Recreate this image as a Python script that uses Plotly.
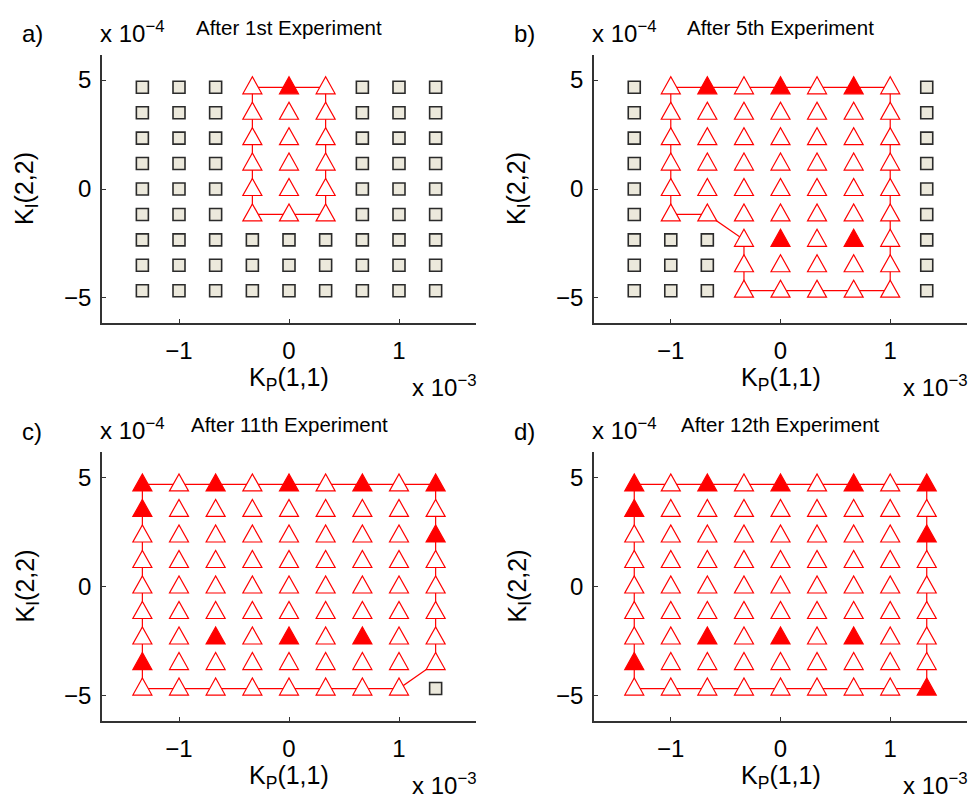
import plotly.graph_objects as go

# Grid of candidate gains (K_P in units of 1e-3, K_I in units of 1e-4)
KP = [-1.333, -1.0, -0.667, -0.333, 0.0, 0.333, 0.667, 1.0, 1.333]
KI = [-4.667, -3.5, -2.333, -1.167, 0.0, 1.167, 2.333, 3.5, 4.667]

PANEL_LABELS = ["a)", "b)", "c)", "d)"]
TITLES = ["After 1st Experiment", "After 5th Experiment",
          "After 11th Experiment", "After 12th Experiment"]

# State of each grid point. Rows run from KI = 4.667 (top) down to KI = -4.667,
# columns follow KP.  s = outside region, o = inside region, f = inside & tested
STATES_A = ["sssofosss",
            "sssooosss",
            "sssooosss",
            "sssooosss",
            "sssooosss",
            "sssooosss",
            "sssssssss",
            "sssssssss",
            "sssssssss"]
STATES_B = ["sofofofos",
            "sooooooos",
            "sooooooos",
            "sooooooos",
            "sooooooos",
            "sooooooos",
            "sssofofos",
            "sssooooos",
            "sssooooos"]
STATES_C = ["fofofofof",
            "foooooooo",
            "oooooooof",
            "ooooooooo",
            "ooooooooo",
            "ooooooooo",
            "oofofofoo",
            "foooooooo",
            "oooooooos"]
STATES_D = ["fofofofof",
            "foooooooo",
            "oooooooof",
            "ooooooooo",
            "ooooooooo",
            "ooooooooo",
            "oofofofoo",
            "foooooooo",
            "oooooooof"]

# Region boundary vertices as (KP index, KI index), KI index 0 = bottom row
BOUND_A_COL = [3, 5, 5, 3, 3]
BOUND_A_ROW = [8, 8, 3, 3, 8]
BOUND_B_COL = [1, 7, 7, 3, 3, 2, 1, 1]
BOUND_B_ROW = [8, 8, 0, 0, 2, 3, 3, 8]
BOUND_C_COL = [0, 8, 8, 7, 0, 0]
BOUND_C_ROW = [8, 8, 1, 0, 0, 8]
BOUND_D_COL = [0, 8, 8, 0, 0]
BOUND_D_ROW = [8, 8, 0, 0, 8]

PANELS = [
    (STATES_A, BOUND_A_COL, BOUND_A_ROW),
    (STATES_B, BOUND_B_COL, BOUND_B_ROW),
    (STATES_C, BOUND_C_COL, BOUND_C_ROW),
    (STATES_D, BOUND_D_COL, BOUND_D_ROW),
]

W, H = 974, 801
RED = "#ff0000"
AXC = "#333333"
FONT = "Liberation Sans, Arial, Helvetica, sans-serif"
SQUARE_FILL = "#ece9dc"
TRI_PATH = "M-9.5,-6.5 L9.5,-6.5 L0,10.5 Z"

# Axes boxes in pixels: (left, right, top, bottom)
BOXES = [(102, 476, 55, 323), (594, 967, 55, 323),
         (102, 476, 452, 721), (594, 967, 452, 721)]


def px(x):
    return x / W


def py(y):
    return 1 - y / H


fig = go.Figure()
shapes = []
annotations = []
layout_axes = {}

for i, ((states, bcol, brow), (L, R, T, B)) in enumerate(zip(PANELS, BOXES)):
    n = "" if i == 0 else str(i + 1)
    xa, ya = "x" + n, "y" + n

    # boundary of the current region
    fig.add_trace(go.Scatter(
        x=[KP[c] for c in bcol], y=[KI[r] for r in brow],
        mode="lines", line=dict(color=RED, width=1.2),
        xaxis=xa, yaxis=ya, showlegend=False, hoverinfo="skip"))

    sq_x, sq_y = [], []
    nrows = len(KI)
    for ri, row in enumerate(states):
        yv = KI[nrows - 1 - ri]
        for ci, ch in enumerate(row):
            xv = KP[ci]
            if ch == "s":
                sq_x.append(xv)
                sq_y.append(yv)
            else:
                filled = ch == "f"
                shapes.append(dict(
                    type="path", xref=xa, yref=ya,
                    xsizemode="pixel", ysizemode="pixel",
                    xanchor=xv, yanchor=yv, path=TRI_PATH,
                    fillcolor=RED if filled else "white",
                    line=dict(color=RED, width=1.2), layer="above"))

    fig.add_trace(go.Scatter(
        x=sq_x, y=sq_y, mode="markers",
        marker=dict(symbol="square", size=12, color=SQUARE_FILL,
                    line=dict(color="#2b2b2b", width=1.6)),
        xaxis=xa, yaxis=ya, showlegend=False, hoverinfo="skip"))

    axis_common = dict(
        showline=True, linecolor=AXC, linewidth=1.5,
        ticks="inside", ticklen=4, tickwidth=1, tickcolor=AXC,
        showgrid=False, zeroline=False, mirror=False,
        tickfont=dict(family=FONT, size=24, color="black"),
    )
    layout_axes["xaxis" + n] = dict(
        axis_common, domain=[px(L), px(R)], anchor=ya,
        range=[-1.7, 1.7], tickvals=[-1, 0, 1], ticklabelstandoff=5)
    layout_axes["yaxis" + n] = dict(
        axis_common, domain=[py(B), py(T)], anchor=xa,
        range=[-6.15, 6.15], tickvals=[-5, 0, 5], ticklabelstandoff=4)

    CX = (L + R) / 2
    CY = (T + B) / 2
    annotations += [
        dict(text=PANEL_LABELS[i], x=px(L - 70), y=py(T - 21),
             xanchor="center", yanchor="middle", font=dict(size=24)),
        dict(text="x 10<sup>\u22124</sup>", x=px(L - 3), y=py(T - 23),
             xanchor="left", yanchor="middle", font=dict(size=24)),
        dict(text=TITLES[i], x=px(CX), y=py(T - 27),
             xanchor="center", yanchor="middle", font=dict(size=20.5)),
        dict(text="K<sub>I</sub>(2,2)", x=px(L - 76), y=py(CY),
             textangle=-90, xanchor="center", yanchor="middle",
             font=dict(size=25)),
        dict(text="K<sub>P</sub>(1,1)", x=px(CX), y=py(B + 56),
             xanchor="center", yanchor="middle", font=dict(size=25)),
        dict(text="x 10<sup>\u22123</sup>", x=px(R + 2), y=py(B + 63),
             xanchor="right", yanchor="middle", font=dict(size=24)),
    ]

for a in annotations:
    a.update(xref="paper", yref="paper", showarrow=False, borderpad=0)
    a["font"] = dict(a["font"], family=FONT, color="black")

fig.update_layout(
    width=W, height=H,
    margin=dict(l=0, r=0, t=0, b=0),
    paper_bgcolor="white", plot_bgcolor="white",
    shapes=shapes, annotations=annotations,
    font=dict(family=FONT, color="black"),
    **layout_axes,
)

fig.write_html("out.html")
